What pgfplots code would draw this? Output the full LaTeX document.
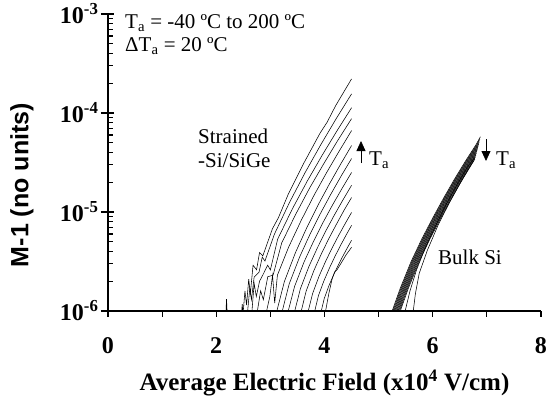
\documentclass[border=0pt]{standalone}
\usepackage{fontspec}
\setmainfont{Liberation Serif}
\newfontfamily\arialfont{Liberation Sans}
\usepackage{pgfplots}
\pgfplotsset{compat=1.18}
\usetikzlibrary{arrows.meta}

\pgfplotsset{curve/.style={black, line width=0.55pt, no markers}}

\begin{document}
\begin{tikzpicture}[x=1pt,y=1pt]
\path[use as bounding box] (-108,-89) rectangle (444,311);
\begin{axis}[
    at={(0,0)}, anchor=south west,
    width=433pt, height=297pt, scale only axis,
    xmin=0, xmax=8,
    ymode=log, ymin=1e-6, ymax=1e-3,
    axis x line=bottom, axis y line=left,
    axis line style={-, line width=1.3pt},
    every tick/.style={black, line width=1.1pt},
    xtick={0,1,...,8}, xticklabels={0,,2,,4,,6,,8},
    xtick align=outside, ytick align=inside,
    major tick length=6pt, minor tick length=5pt,
    ytick={1e-6,1e-5,1e-4,1e-3},
    yticklabels={10\textsuperscript{-6},10\textsuperscript{-5},10\textsuperscript{-4},10\textsuperscript{-3}},
    extra y ticks={1e-6,1e-5,1e-4,1e-3},
    extra y tick labels={},
    extra y tick style={ytick align=outside, major tick length=7pt},
    ticklabel style={font=\fontsize{24}{28}\selectfont\bfseries},
    xticklabel style={yshift=-17pt},
    yticklabel style={xshift=-6pt},
    xlabel={Average Electric Field (x10\textsuperscript{4} V/cm)},
    xlabel style={font=\fontsize{25}{30}\selectfont\bfseries, at={(axis description cs:0.5,0)}, anchor=center, yshift=-72pt},
    ylabel={M-1 (no units)},
    ylabel style={font=\arialfont\fontsize{25}{30}\selectfont\bfseries, at={(axis description cs:-0.1986,0.424)}, anchor=center},
    clip=true,
]
% Strained-Si/SiGe, Ta = -40 ... 200 C (top curve = highest Ta)
\addplot[curve] coordinates {(2.50,1e-6)(2.53,1.6e-6)(2.56,1.15e-6)(2.60,2.1e-6)(2.63,1.5e-6)(2.68,2.9e-6)(2.745,2.61e-6)(2.80,3.9e-6)(2.86,3.6e-6)(3.0375,6.76e-6)(3.15,8.8e-6)(3.33,1.51e-5)(3.6225,3.15e-5)(3.915,6.22e-5)(4.05,8.1e-5)(4.2075,1.19e-4)(4.5,2.21e-4)};
\addplot[curve] coordinates {(2.58,1e-6)(2.62,1.7e-6)(2.65,1.3e-6)(2.70,2.2e-6)(2.79,2.46e-6)(2.85,3.5e-6)(2.90,3.2e-6)(3.075,5.98e-6)(3.36,1.27e-5)(3.645,2.52e-5)(3.93,4.77e-5)(4.215,8.75e-5)(4.5,1.56e-4)};
\addplot[curve] coordinates {(2.66,1e-6)(2.70,1.9e-6)(2.74,1.4e-6)(2.80,2.0e-6)(2.862,2.32e-6)(2.95,2.9e-6)(3.00,2.6e-6)(3.135,5.33e-6)(3.408,1.08e-5)(3.681,2.05e-5)(3.954,3.72e-5)(4.227,6.56e-5)(4.5,1.13e-4)};
\addplot[curve] coordinates {(2.76,1e-6)(2.82,1.6e-6)(2.87,1.3e-6)(2.952,2.22e-6)(3.05,2.3e-6)(3.21,4.88e-6)(3.468,9.48e-6)(3.726,1.75e-5)(3.984,3.06e-5)(4.242,5.25e-5)(4.5,8.77e-5)};
\addplot[curve] coordinates {(2.93,1e-6)(2.99,1.4e-6)(3.04,2.3e-6)(3.08,1.2e-6)(3.13,2.3e-6)(3.3375,4.42e-6)(3.57,8.24e-6)(3.8025,1.46e-5)(4.035,2.48e-5)(4.2675,4.09e-5)(4.5,6.64e-5)};
\addplot[curve] coordinates {(3.12,1e-6)(3.258,1.98e-6)(3.465,3.91e-6)(3.672,6.93e-6)(3.879,1.17e-5)(4.086,1.90e-5)(4.293,3.01e-5)(4.5,4.69e-5)};
\addplot[curve] coordinates {(3.22,1e-6)(3.348,1.88e-6)(3.54,3.51e-6)(3.732,5.96e-6)(3.924,9.64e-6)(4.116,1.51e-5)(4.308,2.31e-5)(4.5,3.47e-5)};
\addplot[curve] coordinates {(3.33,1e-6)(3.447,1.77e-6)(3.6225,3.13e-6)(3.798,5.06e-6)(3.9735,7.85e-6)(4.149,1.18e-5)(4.3245,1.73e-5)(4.5,2.51e-5)};
\addplot[curve] coordinates {(3.45,1e-6)(3.555,1.68e-6)(3.7125,2.82e-6)(3.87,4.36e-6)(4.0275,6.49e-6)(4.185,9.38e-6)(4.3425,1.33e-5)(4.5,1.86e-5)};
\addplot[curve] coordinates {(3.57,1e-6)(3.663,1.60e-6)(3.8025,2.55e-6)(3.942,3.78e-6)(4.0815,5.41e-6)(4.221,7.53e-6)(4.3605,1.04e-5)(4.5,1.40e-5)};
\addplot[curve] coordinates {(3.70,1e-6)(3.78,1.50e-6)(3.90,2.25e-6)(4.02,3.17e-6)(4.14,4.33e-6)(4.26,5.78e-6)(4.38,7.60e-6)(4.5,9.91e-6)};
\addplot[curve] coordinates {(3.82,1e-6)(3.888,1.43e-6)(3.99,2.02e-6)(4.092,2.72e-6)(4.194,3.57e-6)(4.296,4.59e-6)(4.398,5.83e-6)(4.5,7.33e-6)};
\addplot[curve] coordinates {(3.94,1e-6)(3.996,1.34e-6)(4.08,1.79e-6)(4.164,2.29e-6)(4.248,2.86e-6)(4.332,3.52e-6)(4.416,4.29e-6)(4.5,5.18e-6)};
\addplot[curve] coordinates {(4.02,1e-6)(4.08,1.5e-6)(4.14,2.1e-6)(4.19,2.5e-6)(4.23,2.6e-6)(4.30,3.0e-6)(4.40,3.7e-6)(4.5,4.4e-6)};
% noise spikes near the floor
\addplot[curve] coordinates {(2.18,1e-6)(2.19,1.32e-6)(2.20,1e-6)};
\addplot[curve] coordinates {(2.47,1e-6)(2.48,1.17e-6)(2.49,1e-6)};
% Bulk Si (top curve = lowest Ta)
\addplot[curve] coordinates {(5.25,1e-6)(5.40,1.70e-6)(5.60,3.16e-6)(5.80,5.37e-6)(6.00,8.71e-6)(6.20,1.38e-5)(6.40,2.14e-5)(6.60,3.24e-5)(6.80,4.79e-5)(6.88,5.75e-5)};
\addplot[curve] coordinates {(5.265,1e-6)(5.415,1.70e-6)(5.615,3.16e-6)(5.815,5.37e-6)(6.015,8.71e-6)(6.215,1.38e-5)(6.415,2.14e-5)(6.615,3.24e-5)(6.815,4.79e-5)(6.87,5.43e-5)};
\addplot[curve] coordinates {(5.28,1e-6)(5.43,1.70e-6)(5.63,3.16e-6)(5.83,5.37e-6)(6.03,8.71e-6)(6.23,1.38e-5)(6.43,2.14e-5)(6.63,3.24e-5)(6.83,4.79e-5)(6.86,5.13e-5)};
\addplot[curve] coordinates {(5.295,1e-6)(5.445,1.70e-6)(5.645,3.16e-6)(5.845,5.37e-6)(6.045,8.71e-6)(6.245,1.38e-5)(6.445,2.14e-5)(6.645,3.24e-5)(6.85,4.84e-5)};
\addplot[curve] coordinates {(5.31,1e-6)(5.46,1.70e-6)(5.66,3.16e-6)(5.86,5.37e-6)(6.06,8.71e-6)(6.26,1.38e-5)(6.46,2.14e-5)(6.66,3.24e-5)(6.84,4.60e-5)};
\addplot[curve] coordinates {(5.325,1e-6)(5.475,1.70e-6)(5.675,3.16e-6)(5.875,5.37e-6)(6.075,8.71e-6)(6.275,1.38e-5)(6.475,2.14e-5)(6.675,3.24e-5)(6.83,4.38e-5)};
\addplot[curve] coordinates {(5.34,1e-6)(5.49,1.70e-6)(5.69,3.16e-6)(5.89,5.37e-6)(6.09,8.71e-6)(6.29,1.38e-5)(6.49,2.14e-5)(6.69,3.24e-5)(6.82,4.18e-5)};
\addplot[curve] coordinates {(5.355,1e-6)(5.505,1.70e-6)(5.705,3.16e-6)(5.905,5.37e-6)(6.105,8.71e-6)(6.305,1.38e-5)(6.505,2.14e-5)(6.705,3.24e-5)(6.81,3.97e-5)};
\addplot[curve] coordinates {(5.37,1e-6)(5.52,1.70e-6)(5.72,3.16e-6)(5.92,5.37e-6)(6.12,8.71e-6)(6.32,1.38e-5)(6.52,2.14e-5)(6.72,3.24e-5)(6.80,3.78e-5)};
\addplot[curve] coordinates {(5.385,1e-6)(5.535,1.70e-6)(5.735,3.16e-6)(5.935,5.37e-6)(6.135,8.71e-6)(6.335,1.38e-5)(6.535,2.14e-5)(6.735,3.24e-5)(6.79,3.61e-5)};
\addplot[curve] coordinates {(5.40,1e-6)(5.55,1.70e-6)(5.75,3.16e-6)(5.95,5.37e-6)(6.15,8.71e-6)(6.35,1.38e-5)(6.55,2.14e-5)(6.75,3.24e-5)(6.78,3.43e-5)};
\addplot[curve] coordinates {(5.49,1e-6)(5.58,1.6e-6)(5.70,2.6e-6)(5.85,4.2e-6)(6.05,7.2e-6)(6.25,1.2e-5)(6.45,1.9e-5)(6.65,2.9e-5)(6.77,3.5e-5)};
\addplot[curve] coordinates {(5.64,1e-6)(5.68,1.5e-6)(5.75,2.4e-6)(5.90,4.1e-6)(6.10,7.4e-6)(6.30,1.22e-5)(6.50,1.93e-5)(6.70,2.95e-5)(6.76,3.3e-5)};
\end{axis}

% annotations (1pt = 1px of the reference, origin at the axis corner)
\begin{scope}[every node/.style={font=\fontsize{21}{24}\selectfont, inner sep=0pt}]
\node[anchor=west] at (17,288) {T\textsubscript{a} = -40 ºC to 200 ºC};
\node[anchor=west] at (17,265) {ΔT\textsubscript{a} = 20 ºC};
\node[anchor=west, align=left] at (90,163) {Strained\\-Si/SiGe};
\draw[line width=0.8pt, -{Triangle[length=10pt,width=9pt]}] (253,148) -- (253,170);
\node[anchor=west] at (261,151) {T\textsubscript{a}};
\draw[line width=0.8pt, -{Triangle[length=10pt,width=9pt]}] (378,172) -- (378,150);
\node[anchor=west] at (388,151) {T\textsubscript{a}};
\node[anchor=west] at (330,54) {Bulk Si};
\end{scope}
\end{tikzpicture}
\end{document}
